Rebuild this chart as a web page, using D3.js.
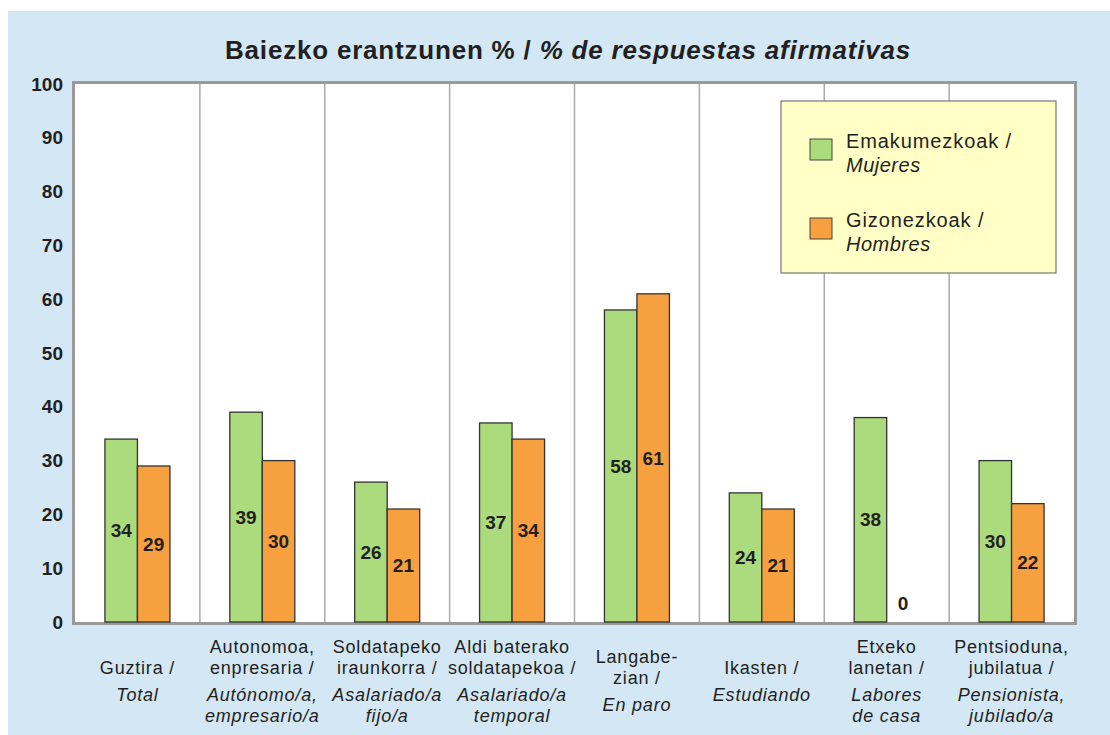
<!DOCTYPE html>
<html>
<head>
<meta charset="utf-8">
<script src="https://cdn.jsdelivr.net/npm/d3@7"></script>
<style>
  body { margin: 0; background: #fff; }
  text { font-family: "Liberation Sans", Arial, sans-serif; fill: #231f20; }
</style>
</head>
<body>
<div id="svg-container"></div>
<script>
// categories: basque lines / spanish lines
const labelsEu = [
  ["Guztira /"],
  ["Autonomoa,", "enpresaria /"],
  ["Soldatapeko", "iraunkorra /"],
  ["Aldi baterako", "soldatapekoa /"],
  ["Langabe-", "zian /"],
  ["Ikasten /"],
  ["Etxeko", "lanetan /"],
  ["Pentsioduna,", "jubilatua /"]
]
const labelsEs = [
  ["Total"],
  ["Autónomo/a,", "empresario/a"],
  ["Asalariado/a", "fijo/a"],
  ["Asalariado/a", "temporal"],
  ["En paro"],
  ["Estudiando"],
  ["Labores", "de casa"],
  ["Pensionista,", "jubilado/a"]
]
const women = [34, 39, 26, 37, 58, 24, 38, 30]
const men = [29, 30, 21, 34, 61, 21, 0, 22]
const yTicks = [0, 10, 20, 30, 40, 50, 60, 70, 80, 90, 100]
const seriesNames = [["Emakumezkoak /", "Mujeres"], ["Gizonezkoak /", "Hombres"]]
const colors = ["#acdb7d", "#f7a03f"]

const svg = d3.select("#svg-container")
  .append("svg")
    .attr("width", 1110)
    .attr("height", 735)

// blue panel
svg.append("rect")
  .attr("x", 8).attr("y", 11)
  .attr("width", 1102).attr("height", 724)
  .attr("fill", "#d3e7f5")

const pLeft = 75, pRight = 1074, pTop = 84, pBottom = 622

const xScale = d3.scaleBand()
  .domain(d3.range(labelsEu.length))
  .range([pLeft, pRight])

const yScale = d3.scaleLinear()
  .domain([0, 100])
  .range([pBottom, pTop])

const barW = 32.5

// plot area
svg.append("rect")
  .attr("x", pLeft).attr("y", pTop)
  .attr("width", pRight - pLeft).attr("height", pBottom - pTop)
  .attr("fill", "white")

// vertical separators
svg.selectAll("line.sep")
  .data(d3.range(1, labelsEu.length))
  .join("line")
    .attr("class", "sep")
    .attr("x1", d => xScale(d)).attr("x2", d => xScale(d))
    .attr("y1", pTop).attr("y2", pBottom)
    .attr("stroke", "#aaaaaa")
    .attr("stroke-width", 1.5)

// frame
svg.append("rect")
  .attr("x", pLeft - 1.5).attr("y", pTop - 1.5)
  .attr("width", pRight - pLeft + 3).attr("height", pBottom - pTop + 3)
  .attr("fill", "none")
  .attr("stroke", "#999999")
  .attr("stroke-width", 3)

// y tick labels
svg.selectAll("text.ytick")
  .data(yTicks)
  .join("text")
    .attr("class", "ytick")
    .text(d => d)
    .attr("x", 63)
    .attr("y", d => yScale(d))
    .attr("dy", "0.35em")
    .attr("text-anchor", "end")
    .style("font-size", "19px")
    .style("font-weight", "bold")

const series = [women, men]
const group = svg.selectAll("g.grp")
  .data(d3.range(labelsEu.length))
  .join("g")
    .attr("class", "grp")
    .attr("transform", i => `translate(${xScale(i) + xScale.bandwidth() / 2}, 0)`)

series.forEach((vals, s) => {
  const bx = s === 0 ? -barW : 0
  group.filter(i => vals[i] > 0)
    .append("rect")
      .attr("x", bx)
      .attr("y", i => yScale(vals[i]))
      .attr("width", barW)
      .attr("height", i => pBottom - yScale(vals[i]))
      .attr("fill", colors[s])
      .attr("stroke", "#333")
      .attr("stroke-width", 1.3)

  group.append("text")
    .text(i => vals[i])
    .attr("x", bx + barW / 2)
    .attr("y", i => vals[i] > 0 ? (yScale(vals[i]) + pBottom) / 2 : pBottom - 19)
    .attr("dy", "0.35em")
    .attr("text-anchor", "middle")
    .style("font-size", "19px")
    .style("font-weight", "bold")
})

// category labels
const lh = 21, gap = 6
group.each(function(i) {
  const lines = labelsEu[i].map(t => ({ t, it: false }))
    .concat(labelsEs[i].map(t => ({ t, it: true })))
  const n = lines.length
  const total = (n - 1) * lh + gap
  let y = 681 - total / 2
  const g = d3.select(this)
  lines.forEach((l, k) => {
    if (k > 0) y += lh + (l.it && !lines[k - 1].it ? gap : 0)
    g.append("text")
      .text(l.t)
      .attr("x", 0)
      .attr("y", y)
      .attr("dy", "0.35em")
      .attr("text-anchor", "middle")
      .style("font-size", "18px")
      .style("font-style", l.it ? "italic" : "normal")
      .style("letter-spacing", "0.8px")
  })
})

// title
const title = svg.append("text")
  .attr("x", 568).attr("y", 50)
  .attr("dy", "0.35em")
  .attr("text-anchor", "middle")
  .style("font-size", "26px")
  .style("font-weight", "bold")
  .style("letter-spacing", "0.8px")
title.append("tspan").text("Baiezko erantzunen % / ")
title.append("tspan").text("% de respuestas afirmativas").style("font-style", "italic")

// legend
const legend = svg.append("g")
legend.append("rect")
  .attr("x", 781).attr("y", 101)
  .attr("width", 275).attr("height", 172)
  .attr("fill", "#ffffc6")
  .attr("stroke", "#777")
  .attr("stroke-width", 1.2)

seriesNames.forEach((nm, s) => {
  const y0 = 139 + s * 79
  legend.append("rect")
    .attr("x", 810).attr("y", y0)
    .attr("width", 22).attr("height", 21)
    .attr("fill", colors[s])
    .attr("stroke", "#444")
    .attr("stroke-width", 1)
  legend.append("text")
    .text(nm[0])
    .attr("x", 846).attr("y", y0 + 9)
    .style("font-size", "20px")
    .style("letter-spacing", "0.9px")
  legend.append("text")
    .text(nm[1])
    .attr("x", 846).attr("y", y0 + 33)
    .style("font-size", "20px")
    .style("font-style", "italic")
    .style("letter-spacing", "0.5px")
})
</script>
</body>
</html>
